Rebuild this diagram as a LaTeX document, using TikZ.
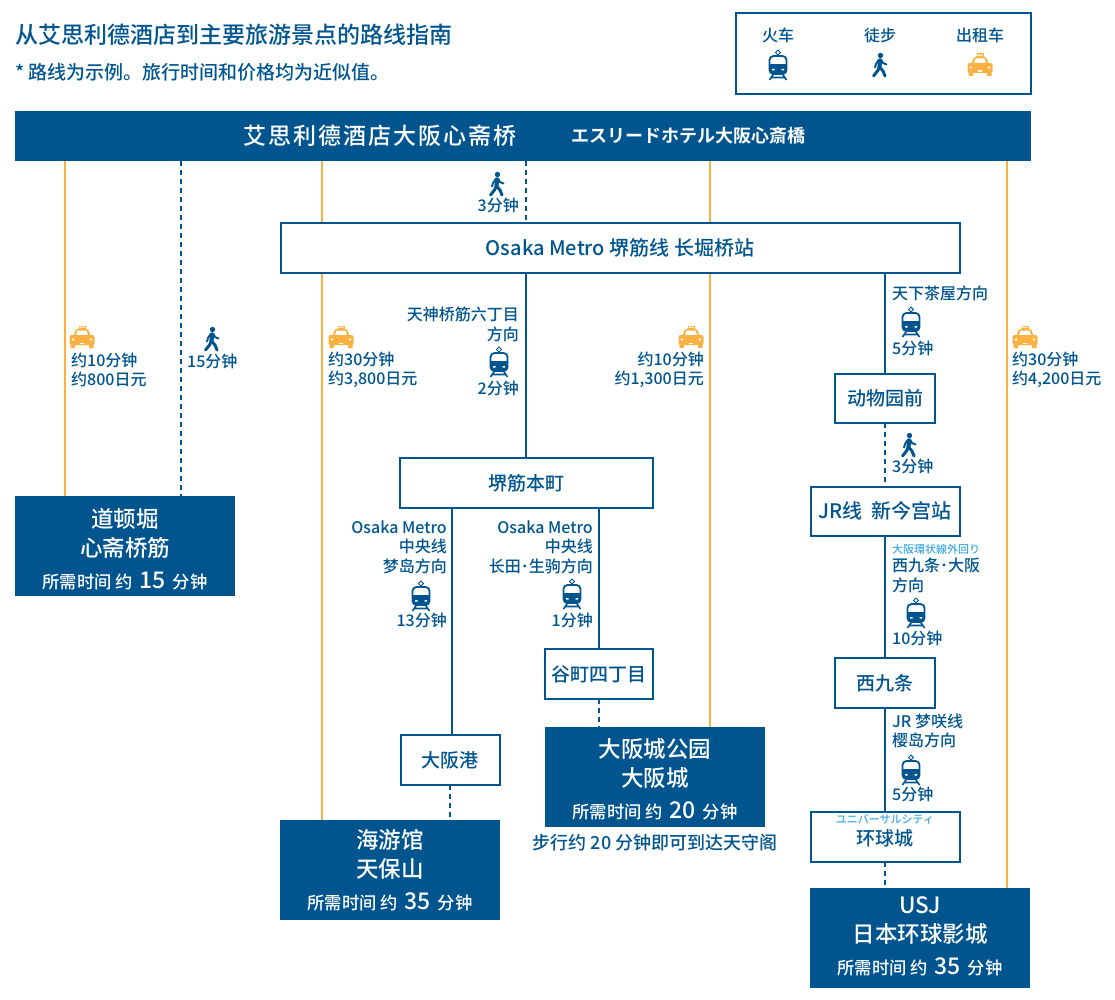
\documentclass[tikz,border=0pt]{standalone}
\usepackage{fontspec}
\setmainfont{Noto Sans CJK SC Medium}
\newfontfamily\jpfont{Noto Sans CJK JP Bold}
\newfontfamily\jpsmallfont{Noto Sans CJK JP Medium}
\usetikzlibrary{backgrounds}
\definecolor{routeblue}{HTML}{00558F}
\definecolor{taxiorange}{HTML}{FBB040}
\definecolor{jrcyan}{HTML}{3FA9E0}
\tikzset{
  station/.style={draw=routeblue,line width=2pt,fill=white,text=routeblue,inner sep=0pt,outer sep=0pt,font=\fontsize{19}{22}\selectfont},
  goal/.style={fill=routeblue,inner sep=0pt,outer sep=0pt,minimum width=220pt,minimum height=100pt},
  goaltitle/.style={text=white,inner sep=0pt,align=center,font=\fontsize{22.5}{29}\selectfont},
  note/.style={text=routeblue,inner sep=0pt,font=\fontsize{16}{19.5}\selectfont},
  noteleft/.style={note,anchor=west,align=left},
  noteright/.style={note,anchor=east,align=right},
  railline/.style={draw=routeblue,line width=2pt},
  walkline/.style={draw=routeblue,line width=2pt,dash pattern=on 5pt off 4pt},
  taxiline/.style={draw=taxiorange,line width=2pt},
  trainicon/.pic={
    \draw[routeblue,line width=1pt] (0,-15) -- (2.5,-12.5) -- (0,-10) -- (-2.5,-12.5) -- cycle;
    \draw[routeblue,line width=1.8pt,fill=white,rounded corners=4pt] (-8.5,-9) rectangle (8.5,9);
    \fill[routeblue,rounded corners=1pt] (-8.5,0) -- (8.5,0) -- (8.5,8) -- (-8.5,8) -- cycle;
    \fill[routeblue] (-8,-1) rectangle (8,0);
    \fill[white] (-6,4) rectangle (-3.5,5.5) (3.5,4) rectangle (6,5.5);
    \draw[routeblue,line width=1.6pt] (-4.5,9) -- (-8.5,15) (4.5,9) -- (8.5,15) (-6.5,12.5) -- (6.5,12.5);
  },
  walkicon/.pic={
    \fill[routeblue] (0.5,-9.5) circle (2.7pt);
    \draw[routeblue,line width=4.2pt,line cap=round,line join=round] (0,-4.5) -- (-0.5,2);
    \draw[routeblue,line width=3pt,line cap=round,line join=round] (-0.5,2) -- (-2.5,6) -- (-6.5,11) (-0.5,2) -- (3,6) -- (5,11);
    \draw[routeblue,line width=1.9pt,line cap=round,line join=round] (-1,-5.5) -- (-4,-1) -- (-5,2.5) (1,-5.5) -- (3,-2) -- (6.5,-0.5);
  },
  taxiicon/.pic={
    \fill[taxiorange] (-3.5,-7) rectangle (3.5,-11.5);
    \fill[taxiorange,rounded corners=2pt] (-8.5,-1) -- (-6,-8.5) -- (6,-8.5) -- (8.5,-1) -- cycle;
    \fill[white] (-6,-2) -- (-4.5,-6.5) -- (4.5,-6.5) -- (6,-2) -- cycle;
    \fill[taxiorange,rounded corners=2pt] (-12.5,-2) rectangle (12.5,8);
    \fill[taxiorange] (-11.5,6) rectangle (-7,11) (7,6) rectangle (11.5,11);
    \fill[white] (-9,2.5) circle (1.4pt) (9,2.5) circle (1.4pt);
    \fill[white] (-2,5.5) rectangle (2,6.7);
    \fill[white] (-2.5,-10.5) rectangle (-1.2,-9.2) (-0.6,-10.5) rectangle (0.7,-9.2) (1.3,-10.5) rectangle (2.6,-9.2);
  }
}
\newcommand{\goaltext}[3]{#1\\ #2\\[3pt]{\fontsize{17.3}{20}\selectfont 所需时间 约\,\ {\fontsize{23}{20}\selectfont #3}\ \,分钟}}
\begin{document}
\begin{tikzpicture}[x=1pt,y=-1pt]
  \useasboundingbox (0,0) rectangle (1115,1000);

  \node[anchor=west,inner sep=0pt,text=routeblue,font=\fontsize{23}{26}\selectfont] (title) at (15,35) {从艾思利德酒店到主要旅游景点的路线指南};
  \node[anchor=west,inner sep=0pt,text=routeblue,font=\fontsize{19}{22}\selectfont] (subtitle) at (15,72) {* 路线为示例。旅行时间和价格均为近似值。};

  \node[station,minimum width=295pt,minimum height=81pt] (legend) at (883,54) {};
  \node[note] (legtrain) at (778,35) {火车};
  \node[note] (legwalk) at (880,35) {徒步};
  \node[note] (legtaxi) at (980,35) {出租车};
  \pic at (778,65) {trainicon};
  \pic at (880,65) {walkicon};
  \pic at (980,65) {taxiicon};

  \node[fill=routeblue,inner sep=0pt,outer sep=0pt,minimum width=1016pt,minimum height=50pt] (hotel) at (523,136) {};
  \node[text=white,font=\fontsize{23}{28}\selectfont\addfontfeatures{LetterSpace=9}] (hotelcn) at (380,136) {艾思利德酒店大阪心斋桥};
  \node[text=white,font=\fontsize{18}{20}\selectfont\jpfont] (hoteljp) at (688,136) {エスリードホテル大阪心斎橋};

  \node[station,minimum width=679pt,minimum height=50pt,font=\fontsize{20}{22}\selectfont] (metro) at (620,248) {\raisebox{-1.5pt}{Osaka Metro 堺筋线 长堀桥站}};
  \node[station,minimum width=253pt,minimum height=50pt] (honmachi) at (526,483) {堺筋本町};
  \node[station,minimum width=100pt,minimum height=49pt] (zoo) at (885,398) {动物园前};
  \node[station,minimum width=149pt,minimum height=49pt,font=\fontsize{20}{22}\selectfont] (shinimamiya) at (885,511) {JR线\ \ 新今宫站};
  \node[station,minimum width=100pt,minimum height=50pt] (nishikujo) at (885,683) {西九条};
  \node[station,minimum width=108pt,minimum height=50pt] (tanimachi) at (599,674) {谷町四丁目};
  \node[station,minimum width=99pt,minimum height=50pt] (minato) at (450,760) {大阪港};
  \node[station,minimum width=149pt,minimum height=50pt] (universal) at (885,837) {};
  \node[inner sep=0pt,text=jrcyan,font=\fontsize{11}{12}\selectfont\jpsmallfont] (unilabel) at (885,819) {ユニバーサルシティ};
  \node[inner sep=0pt,text=routeblue,font=\fontsize{19}{22}\selectfont] (unistation) at (885,838) {环球城};

  \node[goal] (dotonbori) at (125,546) {};
  \node[goal] (kaiyukan) at (390,870) {};
  \node[goal] (castle) at (655,777) {};
  \node[goal] (usj) at (920,938) {};
  \node[goaltitle] (dotonboritext) at (125,549) {\goaltext{道顿堀}{心斋桥筋}{15}};
  \node[goaltitle] (kaiyukantext) at (390,870.5) {\goaltext{海游馆}{天保山}{35}};
  \node[goaltitle] (castletext) at (655,779) {\goaltext{大阪城公园}{大阪城}{20}};
  \node[goaltitle] (usjtext) at (920,936) {\goaltext{USJ}{日本环球影城}{35}};
  \node[note,font=\fontsize{18}{20}\selectfont] (castlenote) at (655,843) {步行约 20 分钟即可到达天守阁};

  \coordinate (taxia) at (65,161);
  \coordinate (walka) at (181,161);
  \coordinate (taxib) at (322,161);
  \coordinate (walkb) at (526,161);
  \coordinate (taxic) at (710,161);
  \coordinate (taxid) at (1007,161);
  \coordinate (linea) at (452,508);
  \coordinate (lineb) at (599,508);
  \coordinate (linec) at (885,273);

  \begin{scope}[on background layer]
    \draw[taxiline] (taxia) -- (taxia |- dotonbori.north);
    \draw[walkline] (walka) -- (walka |- dotonbori.north);
    \draw[taxiline] (taxib) -- (taxib |- kaiyukan.north);
    \draw[walkline] (walkb) -- (walkb |- metro.north);
    \draw[taxiline] (taxic) -- (taxic |- castle.north);
    \draw[taxiline] (taxid) -- (taxid |- usj.north);
    \draw[railline] (walkb |- metro.south) -- (walkb |- honmachi.north);
    \draw[railline] (linea) -- (linea |- minato.north);
    \draw[railline] (lineb) -- (tanimachi.north);
    \draw[walkline] (tanimachi.south) -- (tanimachi.south |- castle.north);
    \draw[walkline] (minato.south) -- (minato.south |- kaiyukan.north);
    \draw[railline] (linec) -- (zoo.north);
    \draw[walkline] (zoo.south) -- (shinimamiya.north);
    \draw[railline] (shinimamiya.south) -- (nishikujo.north);
    \draw[railline] (nishikujo.south) -- (universal.north);
    \draw[walkline] (universal.south) -- (universal.south |- usj.north);
  \end{scope}

  \pic at (82,337) {taxiicon};
  \node[noteleft] (timea) at (71,370) {约10分钟\\约800日元};
  \pic at (212,339) {walkicon};
  \node[noteleft] (timeb) at (187,361) {15分钟};
  \pic at (341,337) {taxiicon};
  \node[noteleft] (timec) at (328,370) {约30分钟\\约3,800日元};
  \pic at (691,337) {taxiicon};
  \node[noteright] (timed) at (704,370) {约10分钟\\约1,300日元};
  \pic at (1025,337) {taxiicon};
  \node[noteleft] (timee) at (1012,370) {约30分钟\\约4,200日元};

  \pic at (497,184) {walkicon};
  \node[noteright] (timef) at (519,205) {3分钟};
  \node[noteright] (dirg) at (519,324.5) {天神桥筋六丁目\\方向};
  \pic at (499,362) {trainicon};
  \node[noteright] (timeg) at (519,388) {2分钟};

  \node[noteright] (dirh) at (447,547) {Osaka Metro\\中央线\\梦岛方向};
  \pic at (421,596) {trainicon};
  \node[noteright] (timeh) at (447,620) {13分钟};
  \node[noteright] (diri) at (593,547) {Osaka Metro\\中央线\\长田･生驹方向};
  \pic at (572,594) {trainicon};
  \node[noteright] (timei) at (593,620) {1分钟};

  \node[noteleft] (dirj) at (892,293) {天下茶屋方向};
  \pic at (911,322) {trainicon};
  \node[noteleft] (timej) at (892,348) {5分钟};
  \pic at (909,445) {walkicon};
  \node[noteleft] (timek) at (892,466) {3分钟};
  \node[anchor=west,inner sep=0pt,text=jrcyan,font=\fontsize{11}{12}\selectfont\jpsmallfont] (dirlabel) at (892,549) {大阪環状線外回り};
  \node[noteleft] (dirl) at (892,575.5) {西九条･大阪\\方向};
  \pic at (916,613) {trainicon};
  \node[noteleft] (timel) at (892,638) {10分钟};
  \node[noteleft] (dirm) at (892,731) {JR 梦咲线\\樱岛方向};
  \pic at (911,770) {trainicon};
  \node[noteleft] (timem) at (892,794) {5分钟};
\end{tikzpicture}
\end{document}
